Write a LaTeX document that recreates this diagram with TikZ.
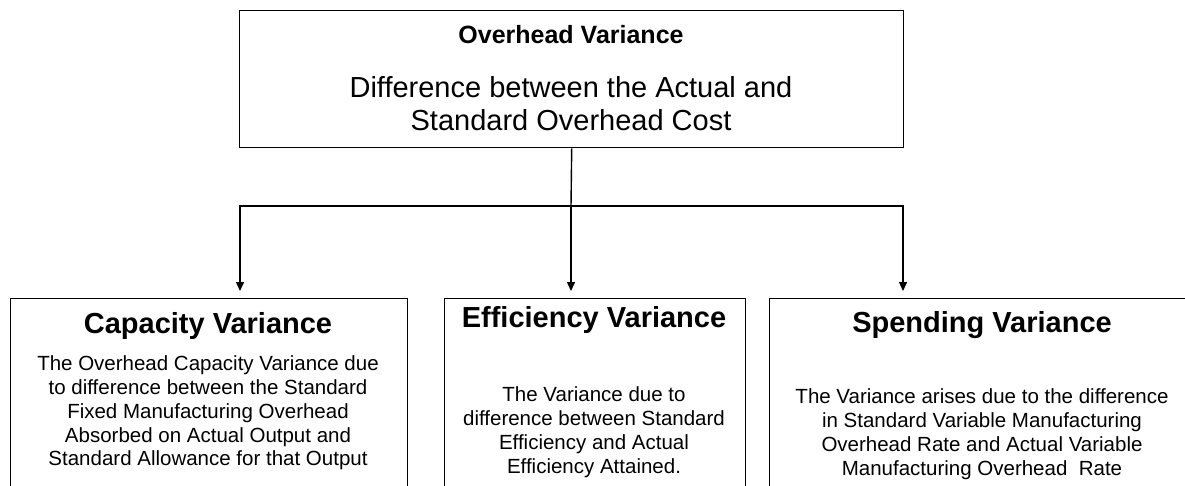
\documentclass[tikz,border=0pt]{standalone}
\usepackage{fontspec}
\setmainfont{Liberation Sans}
\usetikzlibrary{arrows.meta}

\tikzset{
  varbox/.style={draw, line width=1.4pt, anchor=north west, inner sep=0pt},
  toptitle/.style={font=\bfseries\fontsize{25}{28}\selectfont, align=center},
  toptext/.style={font=\fontsize{29}{33}\selectfont, align=center},
  boxtitle/.style={font=\bfseries\fontsize{29}{33}\selectfont, align=center},
  boxtext/.style={font=\fontsize{20.5}{23.8}\selectfont, align=center},
  link/.style={line width=1.4pt, -{Triangle[length=9pt,width=8pt]}, shorten >=7pt}
}

\begin{document}
\begin{tikzpicture}[x=1pt, y=-1pt]
    \clip (0,0) rectangle (1185,485);
    \fill[white] (0,0) rectangle (1185,485);

    % main box
    \node[varbox, minimum width=664pt, minimum height=137pt] (overhead) at (239,10) {};
    \node[toptitle] (overheadtitle) at (571,35) {Overhead Variance};
    \node[toptext] (overheadtext) at (571,104) {Difference between the Actual and\\Standard Overhead Cost};

    % the three variances
    \node[varbox, minimum width=397pt, minimum height=250pt] (capacity) at (10,298) {};
    \node[varbox, minimum width=301pt, minimum height=250pt] (efficiency) at (444,298) {};
    \node[varbox, minimum width=426pt, minimum height=250pt] (spending) at (769,298) {};

    \node[boxtitle] (capacitytitle) at (208,326) {Capacity Variance};
    \node[boxtext] (capacitytext) at (208,413) {The Overhead Capacity Variance due\\to difference between the Standard\\Fixed Manufacturing Overhead\\Absorbed on Actual Output and\\Standard Allowance for that Output};

    \node[boxtitle] (efficiencytitle) at (594,320) {Efficiency Variance};
    \node[boxtext] (efficiencytext) at (594,432) {The Variance due to\\difference between Standard\\Efficiency and Actual\\Efficiency Attained.};

    \node[boxtitle] (spendingtitle) at (982,325) {Spending Variance};
    \node[boxtext] (spendingtext) at (982,434) {The Variance arises due to the difference\\in Standard Variable Manufacturing\\Overhead Rate and Actual Variable\\Manufacturing Overhead~~Rate};

    % connectors
    \coordinate (split) at (571,206);
    \draw[line width=1.4pt] (overhead.south) -- (split);
    \draw[link] (split) -| ([xshift=230pt]capacity.north west);
    \draw[link] (split) -- (split |- efficiency.north);
    \draw[link] (split) -| ([xshift=134pt]spending.north west);
\end{tikzpicture}
\end{document}
